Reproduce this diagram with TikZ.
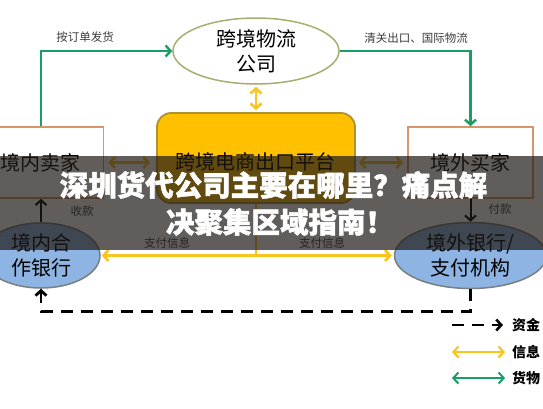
\documentclass[tikz,border=0pt]{standalone}
\usepackage{fontspec}
\newfontfamily\cjk{Noto Sans CJK SC}
\newfontfamily\cjkt[BoldFeatures={FakeBold=1.6}]{Noto Sans CJK SC}
\usetikzlibrary{arrows.meta,shapes.geometric}
\definecolor{grn}{RGB}{24,160,100}
\definecolor{ylw}{RGB}{250,195,30}
\definecolor{org}{RGB}{215,150,105}
\definecolor{olv}{RGB}{165,175,110}
\definecolor{gold}{RGB}{255,192,0}
\definecolor{goldb}{RGB}{175,145,45}
\definecolor{blu}{RGB}{141,180,226}
\definecolor{blub}{RGB}{120,128,125}
\definecolor{bandc}{RGB}{30,25,22}
\definecolor{lblc}{RGB}{60,60,60}
\begin{document}
\begin{tikzpicture}[x=1pt,y=-1pt,
  barb/.tip={Straight Barb[length=5pt,width=11pt]},
  box/.style={draw=org, line width=1.6pt, fill=white, minimum width=125pt, minimum height=71pt, inner sep=0pt, font={\cjk\fontsize{20}{24}\selectfont}},
  ell/.style={ellipse, inner sep=0pt, align=center, font={\cjk\fontsize{20}{25}\selectfont}},
  lbl/.style={text=lblc, inner sep=0pt, font={\cjk\fontsize{11.5}{13}\selectfont}},
  garrow/.style={draw=grn, line width=2.4pt, -barb},
  ydbl/.style={draw=ylw, line width=2.6pt, barb-barb},
  yline/.style={draw=ylw, line width=1.8pt},
  barrow/.style={draw=black, line width=2pt, -barb},
  dsh/.style={draw=black, line width=2.8pt, dash pattern=on 12pt off 8pt, -barb},
  key/.style={inner sep=0pt, anchor=west, font={\cjk\bfseries\fontsize{14}{16}\selectfont}},
  title/.style={text=white, inner sep=0pt, font={\cjkt\bfseries\fontsize{28.5}{30}\selectfont}}
]
\useasboundingbox (0,0) rectangle (543,408);
\clip (0,0) rectangle (543,408);
\fill[white] (0,0) rectangle (543,408);

% nodes
\node[ell, draw=olv, line width=1.5pt, fill=white, minimum width=166pt, minimum height=66pt] (eco) at (256,51) {跨境物流\\公司};
\node[box] (seller) at (41,162.5) {境内卖家};
\node[box] (buyer) at (470.5,162.5) {境外买家};
\node[draw=goldb, line width=1.8pt, fill=gold, rounded corners=14pt, minimum width=198pt, minimum height=90pt, inner sep=0pt] (plat) at (256,158) {};
\node[inner sep=0pt, font={\cjk\fontsize{20}{24}\selectfont}] (plattxt) at (255,162) {跨境电商出口平台};
\node[ell, draw=blub, line width=1.5pt, fill=blu, minimum width=118pt, minimum height=65pt] (lbank) at (41,255.5) {境内合\\作银行};
\node[ell, draw=blub, line width=1.5pt, fill=blu, minimum width=152pt, minimum height=66pt] (rbank) at (470.5,255.5) {境外银行/\\支付机构};

% green goods flow
\draw[garrow] (seller.north) |- (eco.west);
\draw[garrow] (eco.east) -| (buyer.north);
\node[lbl] (l1) at (85,37) {按订单发货};
\node[lbl] (l2) at (416,38) {清关出口、国际物流};

% yellow info flow
\draw[ydbl, shorten <=2pt, shorten >=2pt] (eco.south) -- (plat.north);
\draw[ydbl, shorten <=4pt, shorten >=6pt] (seller.east) -- (seller.east -| plat.west);
\draw[ydbl, shorten <=3pt, shorten >=4pt] (plat.east |- buyer.west) -- (buyer.west);
\draw[ydbl, shorten <=1pt, shorten >=2pt] (lbank.east) -- (lbank.east -| rbank.west);
\draw[yline] (plat.south) -- (plat.south |- lbank.east);
\node[lbl] (l3) at (167,243) {支付信息};
\node[lbl] (l4) at (322,243) {支付信息};

% money flow
\draw[barrow] (lbank.north) -- (seller.south);
\draw[barrow] (buyer.south) -- (rbank.north);
\node[lbl] (l5) at (82,211) {收款};
\node[lbl] (l6) at (500,209) {付款};
\draw[dsh] (rbank.south) -- ++(0,22) -| (lbank.south);

% legend
\coordinate (k1a) at (452,325); \coordinate (k1b) at (503,325);
\coordinate (k2a) at (452,352); \coordinate (k2b) at (505,352);
\coordinate (k3a) at (452,378); \coordinate (k3b) at (505,378);
\draw[dsh, line width=2.6pt] (k1a) -- (k1b);
\draw[ydbl, line width=2.2pt] (k2a) -- (k2b);
\draw[draw=grn, line width=2pt, barb-barb] (k3a) -- (k3b);
\node[key] (t1) at (512,325) {资金};
\node[key] (t2) at (512,352) {信息};
\node[key] (t3) at (512,378) {货物};

% overlay band and title
\fill[bandc, opacity=0.7] (0,156) rectangle (543,250);
\node[title] (tt1) at (273.5,185) {深圳货代公司主要在哪里？痛点解};
\node[title] (tt2) at (280,222) {决聚集区域指南！};
\end{tikzpicture}
\end{document}
